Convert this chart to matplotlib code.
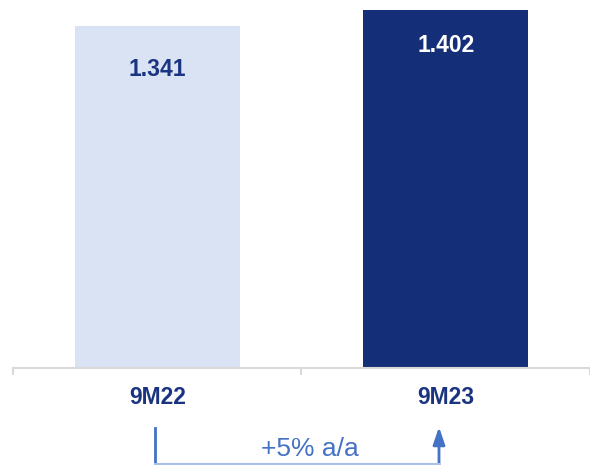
import matplotlib
matplotlib.use("Agg")
import matplotlib.pyplot as plt
from matplotlib.lines import Line2D
from matplotlib.patches import FancyArrowPatch

categories = ["9M22", "9M23"]
values = [1341, 1402]
value_labels = ["1.341", "1.402"]
growth_label = "+5% a/a"

bar_colors = ["#DAE3F3", "#142F78"]
label_colors = ["#1A3481", "#FFFFFF"]
cat_color = "#1A3481"
accent = "#4472C4"

plt.rcParams["font.family"] = ["Liberation Sans", "DejaVu Sans"]

W, H = 590, 465
fig = plt.figure(figsize=(W / 100, H / 100), dpi=100)
ax = fig.add_axes([0, (H - 368) / H, 1, 368 / H])

x = list(range(len(categories)))
ax.bar(x, values, width=0.572, color=bar_colors, zorder=2)
ax.set_xlim(-158 / 290, 432 / 290)
ax.set_ylim(0, max(values) * 368 / 358)

for s in ["top", "right", "left"]:
    ax.spines[s].set_visible(False)
ax.spines["bottom"].set_color("#D9D9D9")
ax.spines["bottom"].set_linewidth(1.5)
ax.spines["bottom"].set_bounds(-0.5, 1.5)
ax.set_yticks([])
ax.set_xticks([-0.5, 0.5, 1.5])
ax.set_xticklabels([])
ax.tick_params(axis="x", length=5, width=1.5, color="#D9D9D9", direction="out")

offsets = [-44, -35]
for i, (v, lab) in enumerate(zip(values, value_labels)):
    ax.annotate(lab, xy=(i, v), xytext=(0, offsets[i]), textcoords="offset pixels",
                ha="center", va="center", fontsize=16.5, fontweight="bold",
                color=label_colors[i], zorder=3)
    ax.annotate(categories[i], xy=(i, 0), xytext=(0, -29), textcoords="offset pixels",
                ha="center", va="center", fontsize=16.5, fontweight="bold",
                color=cat_color, annotation_clip=False)

def fx(px):
    return px / W

def fy(py):
    return (H - py) / H

fig.add_artist(Line2D([fx(155), fx(155)], [fy(428), fy(466)], color=accent, lw=2))
fig.add_artist(Line2D([fx(155), fx(439)], [fy(463.5), fy(463.5)], color="#A9BFE6", lw=1.5))
fig.add_artist(FancyArrowPatch((fx(439), fy(466)), (fx(439), fy(427)),
                               transform=fig.transFigure, arrowstyle="-|>,head_length=7,head_width=2.4",
                               color=accent, lw=2, mutation_scale=1.5, shrinkA=0, shrinkB=0))
fig.text(fx(310), fy(449), growth_label, ha="center", va="center", fontsize=19, color=accent)

fig.savefig("out.png", dpi=100)
